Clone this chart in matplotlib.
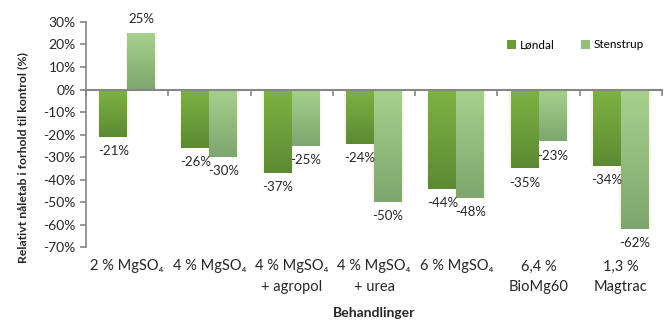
import numpy as np
import matplotlib
matplotlib.use("Agg")
import matplotlib.pyplot as plt
from matplotlib.colors import LinearSegmentedColormap
from matplotlib.patches import Patch

plt.rcParams["font.family"] = ["Lato", "DejaVu Sans"]

categories = [
    "2 % MgSO₄",
    "4 % MgSO₄",
    "4 % MgSO₄\n+ agropol",
    "4 % MgSO₄\n+ urea",
    "6 % MgSO₄",
    "6,4 %\nBioMg60",
    "1,3 %\nMagtrac",
]
series_names = ["Løndal", "Stenstrup"]
londal = [-21, -26, -37, -24, -44, -35, -34]
stenstrup = [25, -30, -25, -50, -48, -23, -62]

# gradient (top colour, bottom colour) per series
grad = {
    "Løndal": ("#7db343", "#5c8a33"),
    "Stenstrup": ("#a6d18c", "#7ea66f"),
}
legend_colors = {"Løndal": "#6a9c3a", "Stenstrup": "#93bf7e"}

fig = plt.figure(figsize=(6.67, 3.23), dpi=100)
ax = fig.add_axes([0.129, 0.235, 0.8635, 0.697])

x = np.arange(len(categories))
width = 0.34
axis_grey = "#868686"
text_col = "#262626"


def gradient_bar(ax, xc, val, name):
    top_c, bot_c = grad[name]
    cmap = LinearSegmentedColormap.from_list(name, [top_c, bot_c])
    bars = ax.bar(xc, val, width, color="none", edgecolor="none", zorder=2)
    rect = bars[0]
    y0, y1 = sorted([0, val])
    # faint glow behind the bar
    ax.bar(xc, val, width * 1.12, color="#fbf3e6", edgecolor="none", zorder=1)
    img = ax.imshow(np.linspace(0, 1, 64).reshape(-1, 1), cmap=cmap,
                    extent=[xc - width / 2, xc + width / 2, y0, y1],
                    origin="upper", aspect="auto", zorder=2)
    img.set_clip_path(rect)
    off = 6 if val >= 0 else -6
    ax.annotate(f"{val}%", (xc, val), xytext=(0, off), textcoords="offset points",
                ha="center", va="bottom" if val >= 0 else "top", fontsize=9.5,
                color=text_col, zorder=4)


for i in range(len(categories)):
    gradient_bar(ax, x[i] - width / 2, londal[i], "Løndal")
    gradient_bar(ax, x[i] + width / 2, stenstrup[i], "Stenstrup")

ax.set_xlim(-0.5, len(categories) - 0.5)
ax.set_ylim(-70, 30)
yt = np.arange(-70, 31, 10)
ax.set_yticks(yt)
ax.set_yticklabels([f"{v}%" for v in yt], fontsize=10, color=text_col)
ax.tick_params(axis="y", length=4, color=axis_grey, width=1.2)

for s in ["top", "right"]:
    ax.spines[s].set_visible(False)
ax.spines["left"].set_color(axis_grey)
ax.spines["left"].set_linewidth(1.2)
ax.spines["bottom"].set_position(("data", 0))
ax.spines["bottom"].set_color(axis_grey)
ax.spines["bottom"].set_linewidth(1.5)
ax.spines["bottom"].set_zorder(3)

ax.set_xticks(x)
ax.set_xticklabels([])
ax.tick_params(axis="x", which="major", length=0)
ax.set_xticks(np.arange(len(categories) + 1) - 0.5, minor=True)
ax.tick_params(axis="x", which="minor", length=4, color=axis_grey, width=1.2)

for i, lab in enumerate(categories):
    ax.text(x[i], -0.055, lab, transform=ax.get_xaxis_transform(), ha="center",
            va="top", fontsize=10.5, color=text_col, linespacing=1.55)

ax.text(0.5, -0.265, "Behandlinger", transform=ax.transAxes, ha="center",
        va="top", fontsize=10, fontweight="bold", color=text_col)
ax.set_ylabel("Relativt nåletab i forhold til kontrol (%)", fontsize=8.8,
              fontweight="bold", color=text_col)
ax.yaxis.set_label_coords(-0.100, 0.40)

handles = [Patch(facecolor=legend_colors[n], edgecolor="none") for n in series_names]
ax.legend(handles, series_names, loc="upper left", bbox_to_anchor=(0.712, 0.97),
          ncol=2, frameon=False, fontsize=8.5, handlelength=0.8, handleheight=0.8,
          handletextpad=0.3, columnspacing=2.2)

fig.savefig("out.png", dpi=100)
